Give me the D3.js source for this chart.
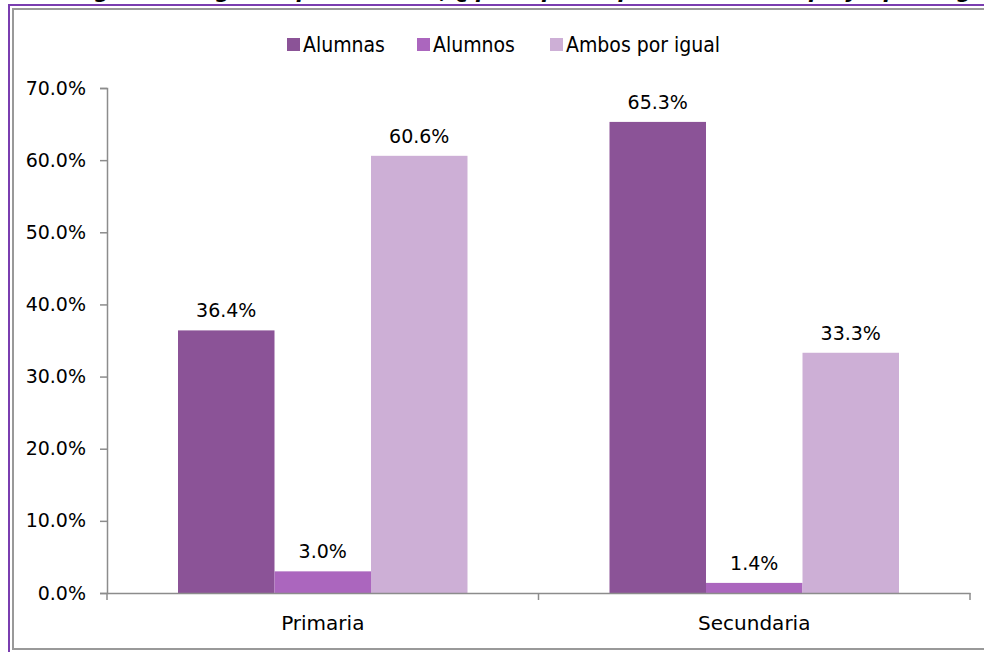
<!DOCTYPE html>
<html>
<head>
<meta charset="utf-8">
<script src="https://cdn.jsdelivr.net/npm/d3@7"></script>
<style>
  body { margin: 0; background: #fff; }
  svg { display: block; }
</style>
</head>
<body>
<div class="canva"></div>
<script>
// datos
var categorias = ["Primaria", "Secundaria"];
var series = ["Alumnas", "Alumnos", "Ambos por igual"];
var alumnas = [36.4, 65.3];
var alumnos = [3.0, 1.4];
var ambos = [60.6, 33.3];
var ticksY = [0, 10, 20, 30, 40, 50, 60, 70];
var colores = ["#8b5397", "#ab66be", "#cdafd6"];
var titulo = "Figura 7. Según el profesorado, ¿quién participa más? Por etapa y tipo de grupo";

var W = 984, H = 652;
var margin = {top: 88, right: 14, bottom: 59, left: 107};
var width = 970 - margin.left,
    height = 593 - margin.top;

var svg = d3.select(".canva").append("svg")
  .attr("width", W).attr("height", H);

// marco
svg.append("line").attr("x1", 8).attr("x2", W).attr("y1", 5).attr("y2", 5)
  .attr("stroke", "#7a3db0").attr("stroke-width", 2);
svg.append("line").attr("x1", 9).attr("x2", 9).attr("y1", 4).attr("y2", H)
  .attr("stroke", "#7a3db0").attr("stroke-width", 2);
svg.append("line").attr("x1", 12).attr("x2", W).attr("y1", 9).attr("y2", 9)
  .attr("stroke", "#999").attr("stroke-width", 2);
svg.append("line").attr("x1", 13).attr("x2", 13).attr("y1", 8).attr("y2", 650)
  .attr("stroke", "#999").attr("stroke-width", 2);
svg.append("line").attr("x1", 12).attr("x2", W).attr("y1", 649).attr("y2", 649)
  .attr("stroke", "#999").attr("stroke-width", 2);

// titulo (cortado por arriba, como en el original)
svg.append("text").attr("x", 550).attr("y", -2)
  .attr("text-anchor", "middle")
  .style("font-family", "'DejaVu Sans'").style("font-weight", "bold")
  .style("font-style", "italic").style("font-size", "21px")
  .text(titulo);

var data = categorias.map(function(c, i) {
  return {cat: c, vals: [alumnas[i], alumnos[i], ambos[i]]};
});

var g = svg.append("g")
  .attr("transform", "translate(" + margin.left + "," + margin.top + ")");

var x = d3.scaleBand().domain(categorias).range([0, width]).paddingInner(0).paddingOuter(0);
var x1 = d3.scaleBand().domain(series).range([71, x.bandwidth() - 71]);
var y = d3.scaleLinear().domain([0, 70]).range([height, 0]);

// eje y
var yAxis = g.append("g")
  .call(d3.axisLeft(y).tickValues(ticksY).tickSize(7).tickPadding(14)
    .tickFormat(function(d) { return d.toFixed(1) + "%"; }));
yAxis.selectAll("line, path").attr("stroke", "#8c8c8c").attr("stroke-width", 1.5);
yAxis.selectAll("text").style("font-family", "'DejaVu Sans'").style("font-size", "19px").attr("fill", "#000");

// barras
var grupos = g.selectAll(".grupo").data(data).enter().append("g")
  .attr("transform", function(d) { return "translate(" + x(d.cat) + ",0)"; });

grupos.selectAll("rect")
  .data(function(d) { return d.vals.map(function(v, i) { return {s: series[i], v: v, i: i}; }); })
  .enter().append("rect")
  .attr("x", function(d) { return x1(d.s); })
  .attr("width", x1.bandwidth())
  .attr("y", function(d) { return y(d.v); })
  .attr("height", function(d) { return height - y(d.v); })
  .attr("fill", function(d) { return colores[d.i]; });

grupos.selectAll(".etiqueta")
  .data(function(d) { return d.vals.map(function(v, i) { return {s: series[i], v: v}; }); })
  .enter().append("text")
  .attr("x", function(d) { return x1(d.s) + x1.bandwidth() / 2; })
  .attr("y", function(d) { return y(d.v) - 13; })
  .attr("text-anchor", "middle")
  .style("font-family", "'DejaVu Sans'").style("font-size", "19px")
  .text(function(d) { return d.v.toFixed(1) + "%"; });

// eje x
var xAxis = g.append("g").attr("transform", "translate(0," + height + ")")
  .call(d3.axisBottom(x).tickSize(0).tickPadding(23));
xAxis.select("path").attr("stroke", "#8c8c8c").attr("stroke-width", 1.5);
xAxis.selectAll("text").style("font-family", "'DejaVu Sans'").style("font-size", "20px").attr("fill", "#000");
xAxis.selectAll(".sep").data([0, x.bandwidth(), width]).enter().append("line")
  .attr("x1", function(d) { return d; }).attr("x2", function(d) { return d; })
  .attr("y1", 0).attr("y2", 7)
  .attr("stroke", "#8c8c8c").attr("stroke-width", 1.5);

// leyenda
var leyX = [287, 417, 550];
var ley = svg.append("g");
series.forEach(function(s, i) {
  ley.append("rect").attr("x", leyX[i]).attr("y", 38).attr("width", 13).attr("height", 13)
    .attr("fill", colores[i]);
  ley.append("text").attr("x", leyX[i] + 16).attr("y", 52)
    .style("font-family", "'DejaVu Sans Condensed'").style("font-size", "21px")
    .text(s);
});
</script>
</body>
</html>
